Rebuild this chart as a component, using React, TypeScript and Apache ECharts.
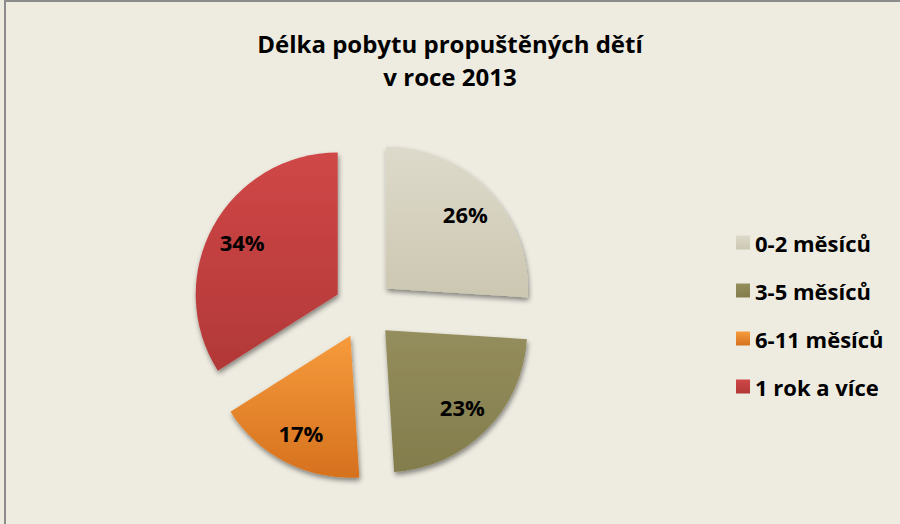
import React, { useEffect, useRef } from "react";
import * as echarts from "echarts";

const titleLines = ["Délka pobytu propuštěných dětí", "v roce 2013"];
const categories = ["0-2 měsíců", "3-5 měsíců", "6-11 měsíců", "1 rok a více"];
const shares = [26, 23, 17, 34];
const topColors = ["#DEDACB", "#948D5C", "#F69B3C", "#D04747"];
const bottomColors = ["#CCC7B1", "#837C4C", "#D6711E", "#B23838"];

const FONT = "'Open Sans', Lato, sans-serif";

export default function App() {
  const ref = useRef<HTMLDivElement>(null);
  useEffect(() => {
    if (!ref.current) return;
    const chart = echarts.init(ref.current, undefined, { renderer: "svg" });
    const grad = (i: number) =>
      new echarts.graphic.LinearGradient(0, 0, 0, 1, [
        { offset: 0, color: topColors[i] },
        { offset: 1, color: bottomColors[i] },
      ]);
    const mainData = categories.map((name, i) => ({
      name,
      value: shares[i],
      selected: true,
      itemStyle: { color: grad(i) },
    }));
    const labelData = categories.map((name, i) => ({
      name,
      value: shares[i],
      selected: true,
    }));
    chart.setOption({
      animation: false,
      backgroundColor: "#EEECE1",
      title: {
        text: titleLines.join("\n"),
        left: "center",
        top: 22,
        textStyle: {
          fontFamily: FONT,
          fontSize: 24,
          fontWeight: "bold",
          color: "#000",
          lineHeight: 33,
        },
      },
      legend: {
        orient: "vertical",
        left: 731,
        top: 226,
        itemWidth: 14,
        itemHeight: 14,
        itemGap: 25,
        icon: "rect",
        data: categories,
        selectedMode: false,
        textStyle: {
          fontFamily: FONT,
          fontSize: 22,
          fontWeight: "bold",
          color: "#000",
          lineHeight: 23,
        },
      },
      graphic: [
        {
          type: "rect",
          shape: { x: 5, y: 1, width: 1000, height: 1000 },
          style: { fill: "none", stroke: "#8C8C8C", lineWidth: 2 },
          silent: true,
        },
      ],
      series: [
        {
          type: "pie",
          center: [364, 309],
          radius: [0, 142],
          startAngle: 90,
          clockwise: true,
          selectedMode: "multiple",
          selectedOffset: 30,
          silent: true,
          label: { show: false },
          labelLine: { show: false },
          itemStyle: {
            borderWidth: 0,
            shadowBlur: 5,
            shadowColor: "rgba(0,0,0,0.45)",
            shadowOffsetX: 1,
            shadowOffsetY: 3,
          },
          data: mainData,
        },
        {
          type: "pie",
          center: [364, 309],
          radius: [70, 142],
          startAngle: 90,
          clockwise: true,
          selectedMode: "multiple",
          selectedOffset: 30,
          silent: true,
          itemStyle: { color: "rgba(0,0,0,0)", borderWidth: 0 },
          label: {
            show: true,
            position: "inside",
            formatter: "{c}%",
            fontFamily: FONT,
            fontSize: 22,
            fontWeight: "bold",
            color: "#000",
          },
          labelLine: { show: false },
          data: labelData,
        },
      ],
    });
    return () => chart.dispose();
  }, []);
  return (
    <div
      ref={ref}
      style={{ position: "fixed", left: 0, top: 0, width: 900, height: 524 }}
    />
  );
}
